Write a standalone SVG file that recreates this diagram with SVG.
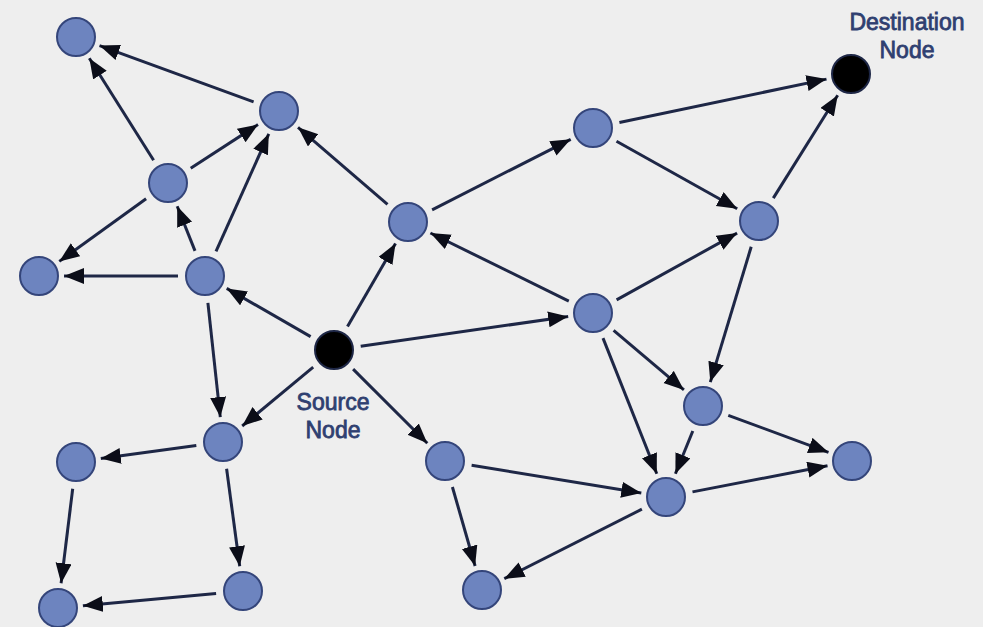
<svg xmlns="http://www.w3.org/2000/svg" width="983" height="627" viewBox="0 0 983 627">
  <defs>
    <marker id="arrow" markerUnits="userSpaceOnUse" markerWidth="22" markerHeight="18" refX="20" refY="8" orient="auto">
      <path d="M0,0 L20,8 L0,16 z" fill="#0b0d18"/>
    </marker>
  </defs>
  <style>
    .edge { stroke: #1e2746; stroke-width: 3; fill: none; marker-end: url(#arrow); }
    .node { fill: #6d84bf; stroke: #34457a; stroke-width: 2; }
    .term { fill: #000; stroke: #1e2746; stroke-width: 2; }
    .label { font-family: "Liberation Sans", Arial, sans-serif; font-size: 23px; fill: #2f3f70; stroke: #2f3f70; stroke-width: 0.8; text-anchor: middle; }
  </style>
  <rect x="0" y="0" width="983" height="627" fill="#eeeeee"/>

  <!-- directed links -->
  <g id="edges">
    <line class="edge" x1="253.6" y1="101.8" x2="99.5" y2="45.6"/>
    <line class="edge" x1="153.6" y1="160.2" x2="89.3" y2="58.2"/>
    <line class="edge" x1="190.7" y1="168.3" x2="258" y2="124.6"/>
    <line class="edge" x1="146.1" y1="198.8" x2="59.3" y2="261.4"/>
    <line class="edge" x1="195" y1="250.9" x2="177.2" y2="206.2"/>
    <line class="edge" x1="216" y1="251.4" x2="268.8" y2="133.8"/>
    <line class="edge" x1="178" y1="276" x2="64" y2="276"/>
    <line class="edge" x1="310.6" y1="336.6" x2="226.7" y2="288.4"/>
    <line class="edge" x1="347.5" y1="326.6" x2="395.5" y2="243.6"/>
    <line class="edge" x1="387.5" y1="204.4" x2="298" y2="127.3"/>
    <line class="edge" x1="432.1" y1="209.8" x2="570.7" y2="139.3"/>
    <line class="edge" x1="619.4" y1="122.5" x2="826.5" y2="79.1"/>
    <line class="edge" x1="616.5" y1="141.2" x2="737.2" y2="208.8"/>
    <line class="edge" x1="773.3" y1="198.1" x2="837.7" y2="95.2"/>
    <line class="edge" x1="568.8" y1="301.1" x2="430.4" y2="233"/>
    <line class="edge" x1="616.6" y1="299.9" x2="737.1" y2="233.1"/>
    <line class="edge" x1="360.7" y1="346.2" x2="568.2" y2="316.5"/>
    <line class="edge" x1="751.2" y1="246.8" x2="710.3" y2="382.1"/>
    <line class="edge" x1="613.6" y1="330.4" x2="683.9" y2="389.9"/>
    <line class="edge" x1="603" y1="338.1" x2="656.8" y2="473.8"/>
    <line class="edge" x1="692.8" y1="431" x2="675.4" y2="473.8"/>
    <line class="edge" x1="728.3" y1="415.3" x2="828.5" y2="452.3"/>
    <line class="edge" x1="692.5" y1="491.9" x2="827.5" y2="465.8"/>
    <line class="edge" x1="471.6" y1="465.3" x2="641.3" y2="493"/>
    <line class="edge" x1="641.9" y1="509.2" x2="504.3" y2="578.7"/>
    <line class="edge" x1="452.4" y1="487" x2="475.1" y2="566"/>
    <line class="edge" x1="353.1" y1="369.1" x2="427.3" y2="443.3"/>
    <line class="edge" x1="313.2" y1="367.2" x2="242.2" y2="426"/>
    <line class="edge" x1="207.9" y1="302.8" x2="220.3" y2="417.1"/>
    <line class="edge" x1="196.3" y1="445.6" x2="100.8" y2="458.6"/>
    <line class="edge" x1="226.6" y1="468.8" x2="239.7" y2="566.2"/>
    <line class="edge" x1="72.7" y1="488.8" x2="61.1" y2="583.2"/>
    <line class="edge" x1="216.1" y1="593.5" x2="82.9" y2="605.7"/>
  </g>

  <!-- nodes -->
  <g id="n1"><circle class="node" cx="76" cy="37" r="19"/></g>
  <g id="n2"><circle class="node" cx="279" cy="111" r="19"/></g>
  <g id="n3"><circle class="node" cx="168" cy="183" r="19"/></g>
  <g id="n4"><circle class="node" cx="39" cy="276" r="19"/></g>
  <g id="n5"><circle class="node" cx="205" cy="276" r="19"/></g>
  <g id="source">
    <circle class="term" cx="334" cy="350" r="19"/>
    <text class="label" x="333" y="410">Source</text>
    <text class="label" x="333" y="438">Node</text>
  </g>
  <g id="n7"><circle class="node" cx="408" cy="222" r="19"/></g>
  <g id="n8"><circle class="node" cx="593" cy="128" r="19"/></g>
  <g id="destination">
    <circle class="term" cx="851" cy="74" r="19"/>
    <text class="label" x="907" y="30">Destination</text>
    <text class="label" x="907" y="58">Node</text>
  </g>
  <g id="n10"><circle class="node" cx="759" cy="221" r="19"/></g>
  <g id="n11"><circle class="node" cx="593" cy="313" r="19"/></g>
  <g id="n12"><circle class="node" cx="703" cy="406" r="19"/></g>
  <g id="n13"><circle class="node" cx="852" cy="461" r="19"/></g>
  <g id="n14"><circle class="node" cx="666" cy="497" r="19"/></g>
  <g id="n15"><circle class="node" cx="445" cy="461" r="19"/></g>
  <g id="n16"><circle class="node" cx="482" cy="590" r="19"/></g>
  <g id="n17"><circle class="node" cx="223" cy="442" r="19"/></g>
  <g id="n18"><circle class="node" cx="76" cy="462" r="19"/></g>
  <g id="n19"><circle class="node" cx="243" cy="591" r="19"/></g>
  <g id="n20"><circle class="node" cx="58" cy="608" r="19"/></g>
</svg>
